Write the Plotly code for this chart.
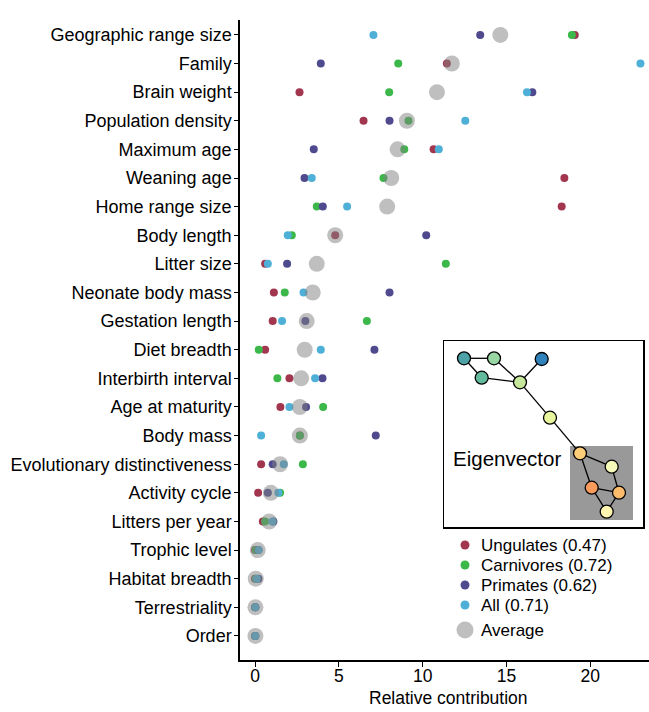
import plotly.graph_objects as go

categories = ["Geographic range size", "Family", "Brain weight", "Population density",
              "Maximum age", "Weaning age", "Home range size", "Body length", "Litter size",
              "Neonate body mass", "Gestation length", "Diet breadth", "Interbirth interval",
              "Age at maturity", "Body mass", "Evolutionary distinctiveness", "Activity cycle",
              "Litters per year", "Trophic level", "Habitat breadth", "Terrestriality", "Order"]

ungulates = [19.07, 11.44, 2.65, 6.47, 10.65, 18.45, 18.29, 4.78, 0.60, 1.12, 1.05, 0.60,
             2.05, 1.51, 2.67, 0.36, 0.18, 0.46, 0.00, 0.00, 0.00, 0.00]
carnivores = [18.90, 8.54, 8.00, 9.15, 8.90, 7.66, 3.68, 2.19, 11.38, 1.77, 6.67, 0.22,
              1.33, 4.06, 2.67, 2.85, 1.49, 0.60, 0.05, 0.05, 0.00, 0.00]
primates = [13.43, 3.92, 16.54, 8.02, 3.50, 2.95, 4.04, 10.21, 1.91, 8.02, 3.00, 7.12,
            4.02, 3.04, 7.20, 1.05, 0.76, 1.09, 0.20, 0.20, 0.02, 0.02]
all_mammals = [7.06, 22.99, 16.22, 12.54, 10.96, 3.38, 5.49, 1.95, 0.76, 2.89, 1.61, 3.92,
               3.58, 2.05, 0.36, 1.71, 1.39, 1.03, 0.22, 0.10, 0.02, 0.02]
average = [14.63, 11.74, 10.85, 9.06, 8.50, 8.12, 7.88, 4.78, 3.68, 3.44, 3.08, 2.96,
           2.75, 2.67, 2.67, 1.49, 0.94, 0.84, 0.16, 0.04, 0.02, 0.02]

series_names = ["Ungulates (0.47)", "Carnivores (0.72)", "Primates (0.62)", "All (0.71)", "Average"]
series_colors = ["#a3364f", "#3cb84a", "#4f4a8e", "#4eb0d6", "rgba(128,128,128,0.5)"]
series_sizes = [8, 8, 8, 8, 16]

x_ticks = [0, 5, 10, 15, 20]

# Inset network (eigenvector illustration)
node_x = [464, 494, 541.7, 481.7, 520, 550, 580, 611.7, 591.7, 619, 606.7]
node_y = [358.3, 358.3, 359, 377.7, 382.3, 417.7, 453.3, 466.7, 487.7, 492.7, 511.7]
node_colors = ["#4ba3a8", "#98d6a4", "#2f82ba", "#62bb9c", "#c6e89c", "#e8f59d",
               "#fdcd79", "#f6fbb9", "#f99b5a", "#fdbb6c", "#fef6b0"]
edges = [(0, 1), (0, 3), (3, 4), (1, 4), (2, 4), (4, 5), (5, 6), (6, 7), (6, 8),
         (7, 9), (8, 9), (8, 10), (9, 10)]

# legend key rows (inset/legend axis units)
legend_rows = [545, 565, 585, 605, 630]

FONT = "Liberation Sans, Arial, Helvetica, sans-serif"

fig = go.Figure()

for name, vals, col, sz in zip(series_names, [ungulates, carnivores, primates, all_mammals, average],
                               series_colors, series_sizes):
    fig.add_trace(go.Scatter(x=vals, y=categories, mode="markers", name=name,
                             marker=dict(size=sz, color=col, opacity=1, line=dict(width=0)),
                             showlegend=False))

# network edges
ex, ey = [], []
for a, b in edges:
    ex += [node_x[a], node_x[b], None]
    ey += [node_y[a], node_y[b], None]
fig.add_trace(go.Scatter(x=ex, y=ey, mode="lines", xaxis="x2", yaxis="y2",
                         line=dict(color="black", width=1.3), showlegend=False, hoverinfo="skip"))
fig.add_trace(go.Scatter(x=node_x, y=node_y, mode="markers", xaxis="x2", yaxis="y2",
                         marker=dict(size=13, color=node_colors, opacity=1,
                                     line=dict(color="black", width=1.3)),
                         showlegend=False, hoverinfo="skip"))

# manual legend keys
fig.add_trace(go.Scatter(x=[465] * len(legend_rows), y=legend_rows, mode="markers",
                         xaxis="x2", yaxis="y2",
                         marker=dict(size=[s + 1 for s in series_sizes], color=series_colors,
                                     opacity=1, line=dict(width=0)),
                         showlegend=False, hoverinfo="skip"))

# plot area: px x 240..649, y 20..660
def px(x):
    return (x - 240) / 409.0

def py(y):
    return (660 - y) / 640.0

annotations = [
    dict(text="Eigenvector", xref="x2", yref="y2", x=451, y=458, xanchor="left",
         yanchor="middle", showarrow=False, font=dict(size=20.5, color="black")),
    dict(text="Relative contribution", xref="paper", yref="paper", x=px(448), y=py(698),
         xanchor="center", yanchor="middle", showarrow=False, font=dict(size=17.5, color="black")),
]
for name, yy in zip(series_names, legend_rows):
    annotations.append(dict(text=name, xref="x2", yref="y2", x=479, y=yy, xanchor="left",
                            yanchor="middle", showarrow=False, font=dict(size=17, color="black")))

fig.update_layout(
    width=649, height=712,
    margin=dict(l=240, r=0, t=20, b=52, autoexpand=False),
    paper_bgcolor="white", plot_bgcolor="white",
    font=dict(family=FONT, size=17, color="black"),
    xaxis=dict(range=[-0.9, 23.5], tickvals=x_ticks, ticks="outside", ticklen=5,
               tickwidth=1.2, tickcolor="black", showline=True, linecolor="black", linewidth=1.5,
               showgrid=False, zeroline=False, tickfont=dict(size=17.5), automargin=False,
               ticklabelstandoff=-6),
    yaxis=dict(categoryorder="array", categoryarray=categories[::-1], range=[-0.84, 21.52],
               ticks="outside", ticklen=4, tickwidth=1.2, tickcolor="black",
               showline=True, linecolor="black", linewidth=1.5, showgrid=False, automargin=False,
               zeroline=False, tickfont=dict(size=18), ticklabelstandoff=-1),
    xaxis2=dict(domain=[px(443), px(649)], range=[443, 649], anchor="y2",
                visible=False, fixedrange=True),
    yaxis2=dict(domain=[py(660), py(340)], range=[660, 340], anchor="x2",
                visible=False, fixedrange=True),
    shapes=[
        dict(type="rect", xref="x2", yref="y2", x0=443, x1=644, y0=340, y1=528,
             line=dict(color="black", width=2), fillcolor="white", layer="below"),
        dict(type="rect", xref="x2", yref="y2", x0=570, x1=633, y0=446, y1=520,
             line=dict(width=0), fillcolor="#999999", layer="below"),
    ],
    annotations=annotations,
    showlegend=False,
)

fig.write_html("out.html", config={"displayModeBar": False},
               post_script="document.body.style.margin='0px';")
